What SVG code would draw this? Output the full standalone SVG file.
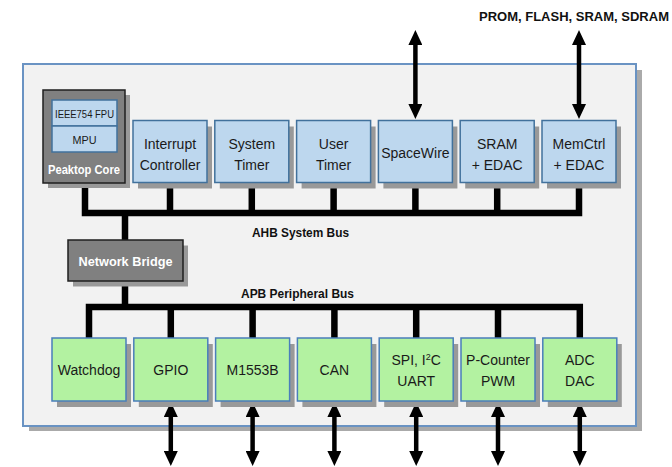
<svg xmlns="http://www.w3.org/2000/svg" width="672" height="467" viewBox="0 0 672 467">
  <style>
    .shadow { fill: #999999; }
    .blue { fill: #bdd7ee; stroke: #41719c; stroke-width: 1.5; }
    .green { fill: #b3f2a1; stroke: #4a7ebb; stroke-width: 1.5; }
    .dark { fill: #808080; stroke: #1f1f1f; stroke-width: 1.5; }
    .lbl { font-family: "Liberation Sans", Arial, sans-serif; font-size: 14px; fill: #1a1a1a; text-anchor: middle; }
    .small { font-family: "Liberation Sans", Arial, sans-serif; font-size: 11.5px; fill: #1a1a1a; text-anchor: middle; }
    .bold { font-family: "Liberation Sans", Arial, sans-serif; font-size: 13px; font-weight: bold; fill: #111111; text-anchor: middle; }
    .white { fill: #ffffff; }
    .bus { fill: none; stroke: #000000; stroke-width: 6.5; stroke-linejoin: miter; }
    .io { fill: none; stroke: #000000; stroke-width: 4.5; marker-start: url(#head); marker-end: url(#head); }
  </style>
  <defs>
    <marker id="head" viewBox="0 -7 15 14" markerUnits="userSpaceOnUse" markerWidth="15" markerHeight="14" refX="1" refY="0" orient="auto-start-reverse">
      <path d="M0,-7 L15,0 L0,7 z" fill="#000000"/>
    </marker>
  </defs>

  <!-- external memory label -->
  <text class="bold" x="574" y="20.5" font-size="11.8">PROM, FLASH, SRAM, SDRAM</text>

  <!-- chip outline -->
  <g id="chip">
    <rect x="29" y="70" width="613" height="361" fill="#aaaaaa"/>
    <rect x="23" y="64" width="613" height="362" fill="#f2f2f2" stroke="#6a93c3" stroke-width="2"/>
  </g>

  <!-- bus wiring and I/O arrows -->
  <g id="connectors">
    <!-- AHB system bus -->
    <path class="bus" d="M85,183 V213 H579 V183"/>
    <path class="bus" d="M170,183 V213 M251.8,183 V213 M333.6,183 V213 M415.4,183 V213 M497.2,183 V213"/>
    <!-- bridge links -->
    <path class="bus" d="M125,213 V240 M125,281 V307"/>
    <!-- APB peripheral bus -->
    <path class="bus" d="M89,338 V307 H579.8 V338"/>
    <path class="bus" d="M170.8,307 V338 M252.6,307 V338 M334.4,307 V338 M416.2,307 V338 M498,307 V338"/>
    <!-- external interfaces -->
    <line class="io" x1="415.4" y1="44" x2="415.4" y2="105"/>
    <line class="io" x1="579" y1="44" x2="579" y2="105"/>
    <line class="io" x1="170.8" y1="416" x2="170.8" y2="452"/>
    <line class="io" x1="252.6" y1="416" x2="252.6" y2="452"/>
    <line class="io" x1="334.4" y1="416" x2="334.4" y2="452"/>
    <line class="io" x1="416.2" y1="416" x2="416.2" y2="452"/>
    <line class="io" x1="498" y1="416" x2="498" y2="452"/>
    <line class="io" x1="579.8" y1="416" x2="579.8" y2="452"/>
  </g>

  <!-- processor core -->
  <g id="peaktop-core">
    <rect class="shadow" x="48" y="95" width="82" height="93"/>
    <rect class="dark" x="43" y="90" width="82" height="93"/>
    <rect class="blue" x="52" y="100" width="65" height="26"/>
    <rect class="blue" x="52" y="126" width="65" height="26"/>
    <text class="small" x="84.5" y="117.5" textLength="59" lengthAdjust="spacingAndGlyphs">IEEE754 FPU</text>
    <text class="small" x="84.5" y="143.5" textLength="24" lengthAdjust="spacingAndGlyphs">MPU</text>
    <text class="bold white" x="84" y="174" textLength="72" lengthAdjust="spacingAndGlyphs">Peaktop Core</text>
  </g>

  <!-- AHB masters / slaves -->
  <g id="interrupt-controller">
    <rect class="shadow" x="138" y="126.5" width="74" height="62"/>
    <rect class="blue" x="133" y="120.5" width="74" height="62"/>
    <text class="lbl" x="170" y="148.5">Interrupt</text>
    <text class="lbl" x="170" y="169.5">Controller</text>
  </g>
  <g id="system-timer">
    <rect class="shadow" x="219.8" y="126.5" width="74" height="62"/>
    <rect class="blue" x="214.8" y="120.5" width="74" height="62"/>
    <text class="lbl" x="251.8" y="148.5">System</text>
    <text class="lbl" x="251.8" y="169.5">Timer</text>
  </g>
  <g id="user-timer">
    <rect class="shadow" x="301.6" y="126.5" width="74" height="62"/>
    <rect class="blue" x="296.6" y="120.5" width="74" height="62"/>
    <text class="lbl" x="333.6" y="148.5">User</text>
    <text class="lbl" x="333.6" y="169.5">Timer</text>
  </g>
  <g id="spacewire">
    <rect class="shadow" x="383.4" y="126.5" width="74" height="62"/>
    <rect class="blue" x="378.4" y="120.5" width="74" height="62"/>
    <text class="lbl" x="415.4" y="157.5">SpaceWire</text>
  </g>
  <g id="sram-edac">
    <rect class="shadow" x="465.2" y="126.5" width="74" height="62"/>
    <rect class="blue" x="460.2" y="120.5" width="74" height="62"/>
    <text class="lbl" x="497.2" y="148.5">SRAM</text>
    <text class="lbl" x="497.2" y="169.5">+ EDAC</text>
  </g>
  <g id="memctrl-edac">
    <rect class="shadow" x="547" y="126.5" width="74" height="62"/>
    <rect class="blue" x="542" y="120.5" width="74" height="62"/>
    <text class="lbl" x="579" y="148.5">MemCtrl</text>
    <text class="lbl" x="579" y="169.5">+ EDAC</text>
  </g>

  <!-- bus labels -->
  <text class="bold" x="300.5" y="236.5" textLength="97" lengthAdjust="spacingAndGlyphs">AHB System Bus</text>
  <text class="bold" x="297.5" y="298" textLength="113" lengthAdjust="spacingAndGlyphs">APB Peripheral Bus</text>

  <!-- AHB/APB bridge -->
  <g id="network-bridge">
    <rect class="shadow" x="73" y="245.5" width="115" height="41"/>
    <rect class="dark" x="68" y="240" width="115" height="41" stroke="#333333"/>
    <text class="bold white" x="125.5" y="266" textLength="94" lengthAdjust="spacingAndGlyphs">Network Bridge</text>
  </g>

  <!-- APB peripherals -->
  <g id="watchdog">
    <rect class="shadow" x="57" y="344" width="74" height="63"/>
    <rect class="green" x="52" y="338" width="74" height="63"/>
    <text class="lbl" x="89" y="375">Watchdog</text>
  </g>
  <g id="gpio">
    <rect class="shadow" x="138.8" y="344" width="74" height="63"/>
    <rect class="green" x="133.8" y="338" width="74" height="63"/>
    <text class="lbl" x="170.8" y="375">GPIO</text>
  </g>
  <g id="m1553b">
    <rect class="shadow" x="220.6" y="344" width="74" height="63"/>
    <rect class="green" x="215.6" y="338" width="74" height="63"/>
    <text class="lbl" x="252.6" y="375">M1553B</text>
  </g>
  <g id="can">
    <rect class="shadow" x="302.4" y="344" width="74" height="63"/>
    <rect class="green" x="297.4" y="338" width="74" height="63"/>
    <text class="lbl" x="334.4" y="375">CAN</text>
  </g>
  <g id="spi-i2c-uart">
    <rect class="shadow" x="384.2" y="344" width="74" height="63"/>
    <rect class="green" x="379.2" y="338" width="74" height="63"/>
    <text class="lbl" x="416.2" y="365">SPI, I<tspan font-size="9" dy="-5">2</tspan><tspan dy="5">C</tspan></text>
    <text class="lbl" x="416.2" y="386">UART</text>
  </g>
  <g id="pcounter-pwm">
    <rect class="shadow" x="466" y="344" width="74" height="63"/>
    <rect class="green" x="461" y="338" width="74" height="63"/>
    <text class="lbl" x="498" y="365">P-Counter</text>
    <text class="lbl" x="498" y="386">PWM</text>
  </g>
  <g id="adc-dac">
    <rect class="shadow" x="547.8" y="344" width="74" height="63"/>
    <rect class="green" x="542.8" y="338" width="74" height="63"/>
    <text class="lbl" x="579.8" y="365">ADC</text>
    <text class="lbl" x="579.8" y="386">DAC</text>
  </g>
</svg>
